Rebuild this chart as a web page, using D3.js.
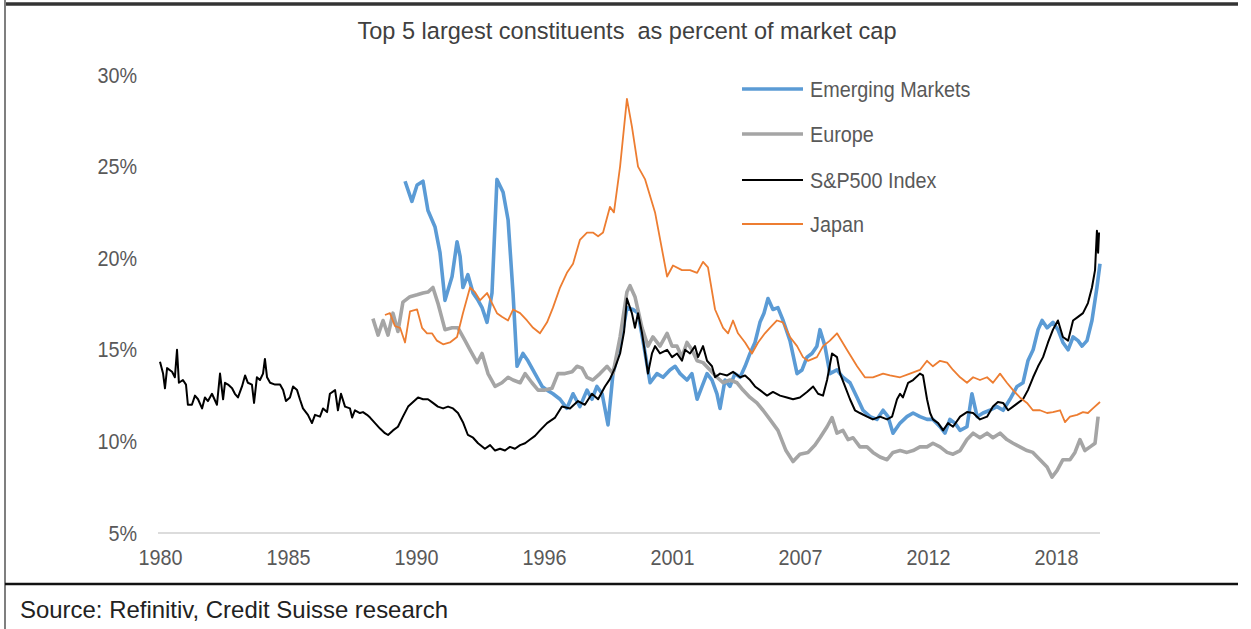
<!DOCTYPE html>
<html>
<head>
<meta charset="utf-8">
<script src="https://cdn.jsdelivr.net/npm/d3@7"></script>
<style>
  html, body { margin: 0; padding: 0; background: #fff; }
  svg { display: block; font-family: "Liberation Sans", Arial, sans-serif; }
  text { white-space: pre; }
</style>
</head>
<body>
<svg id="chart" width="1251" height="629"></svg>
<script>
// ---- text ----
const titleText = "Top 5 largest constituents  as percent of market cap";
const sourceText = "Source: Refinitiv, Credit Suisse research";
const seriesNames = ["Emerging Markets", "Europe", "S&P500 Index", "Japan"];

// ---- axes ----
const yTicks = [5, 10, 15, 20, 25, 30];
const xTickYears = [1980, 1985.42, 1990.83, 1996.25, 2001.67, 2007.08, 2012.5, 2017.92];
const xTickLabels = ["1980", "1985", "1990", "1996", "2001", "2007", "2012", "2018"];

// ---- S&P500 Index (% of market cap in top 5) ----
const spYears = [1980.00,1980.13,1980.21,1980.30,1980.51,1980.63,1980.72,1980.80,1980.97,1981.10,1981.18,1981.35,1981.48,1981.61,1981.78,1981.90,
  1982.03,1982.20,1982.41,1982.54,1982.67,1982.75,1982.88,1983.05,1983.17,1983.30,1983.47,1983.60,1983.72,1983.89,1983.98,1984.10,1984.23,1984.36,
  1984.44,1984.53,1984.66,1984.87,1985.08,1985.21,1985.33,1985.50,1985.63,1985.80,1985.92,1986.05,1986.26,1986.43,1986.56,1986.77,1986.90,1987.07,
  1987.19,1987.41,1987.53,1987.66,1987.83,1988.04,1988.13,1988.25,1988.46,1988.59,1988.76,1988.89,1989.10,1989.31,1989.52,1989.65,1989.86,1990.07,
  1990.28,1990.50,1990.71,1990.92,1991.13,1991.34,1991.55,1991.76,1991.98,1992.19,1992.40,1992.61,1992.82,1993.03,1993.25,1993.46,1993.75,1993.97,
  1994.18,1994.39,1994.60,1994.81,1995.02,1995.24,1995.45,1995.66,1995.87,1996.08,1996.38,1996.72,1997.01,1997.35,1997.69,1997.98,1998.28,1998.54,
  1998.83,1999.04,1999.25,1999.47,1999.64,1999.76,1999.97,2000.10,2000.23,2000.40,2000.53,2000.65,2000.82,2000.95,2001.16,2001.46,2001.67,2001.88,
  2002.09,2002.22,2002.43,2002.64,2002.77,2002.98,2003.15,2003.36,2003.49,2003.70,2004.00,2004.25,2004.55,2004.76,2004.97,2005.18,2005.39,2005.69,
  2005.94,2006.24,2006.53,2006.79,2007.08,2007.38,2007.64,2007.85,2008.06,2008.23,2008.44,2008.65,2008.78,2008.99,2009.20,2009.41,2009.62,2009.92,
  2010.17,2010.47,2010.77,2010.98,2011.19,2011.32,2011.44,2011.66,2011.87,2012.16,2012.29,2012.46,2012.59,2012.71,2012.93,2013.14,2013.35,2013.56,
  2013.86,2014.15,2014.41,2014.70,2015.00,2015.25,2015.46,2015.68,2015.89,2016.10,2016.31,2016.52,2016.73,2016.95,2017.16,2017.37,2017.58,2017.79,
  2018.00,2018.21,2018.43,2018.64,2018.85,2019.06,2019.27,2019.44,2019.57,2019.65,2019.70,2019.74];
const spValues = [14.35,13.7,12.9,14.0,13.8,13.5,15.0,13.2,13.35,13.1,12.0,12.0,12.5,12.3,11.8,12.4,
  12.2,12.6,12.0,13.7,12.3,13.2,13.1,12.9,12.6,12.4,13.0,13.6,13.2,13.1,12.1,13.5,13.35,13.7,
  14.5,13.5,13.2,13.1,13.1,12.8,12.2,12.4,13.0,12.8,12.3,11.8,11.45,11.0,11.45,11.35,11.8,11.6,
  12.6,12.8,11.7,12.6,11.9,11.8,11.3,11.7,11.55,11.6,11.45,11.3,11.0,10.7,10.45,10.35,10.6,10.8,
  11.35,11.9,12.15,12.4,12.3,12.3,12.1,11.9,11.8,11.9,11.8,11.55,11.05,10.35,10.2,9.9,9.6,9.8,
  9.5,9.6,9.5,9.7,9.6,9.8,9.9,10.1,10.3,10.6,11.0,11.3,11.9,11.8,12.2,12.0,12.6,12.3,
  13.0,13.4,14.0,14.8,16.0,17.8,17.0,16.2,17.0,15.9,14.8,13.7,14.8,15.2,14.8,15.0,14.6,14.8,
  14.4,15.0,14.8,15.2,14.6,15.2,14.4,14.1,13.5,13.7,13.6,13.8,13.5,13.6,13.35,13.0,12.8,12.5,
  12.7,12.5,12.4,12.3,12.4,12.7,13.0,12.6,12.5,13.35,14.8,14.6,13.7,13.0,12.3,11.7,11.55,11.35,
  11.2,11.35,11.2,11.35,12.3,12.6,12.4,13.2,13.35,13.7,13.6,12.3,11.55,11.2,11.0,10.6,11.0,10.8,
  11.35,11.6,11.55,11.2,11.35,11.9,12.15,12.1,11.7,11.9,12.1,12.3,12.8,13.5,14.1,14.6,15.4,16.1,
  16.6,15.7,15.5,16.6,16.8,17.0,17.55,18.4,19.35,21.5,20.3,21.4];

// ---- Emerging Markets ----
const emYears = [1990.37,1990.66,1990.88,1991.13,1991.34,1991.64,1991.85,1992.06,1992.36,1992.57,1992.70,1992.82,1993.03,1993.25,1993.46,1993.63,
  1993.84,1994.05,1994.26,1994.52,1994.73,1994.94,1995.11,1995.36,1995.57,1995.87,1996.17,1996.38,1996.63,1996.93,1997.22,1997.48,1997.77,1998.07,
  1998.28,1998.49,1998.71,1998.96,1999.17,1999.47,1999.76,2000.02,2000.23,2000.44,2000.74,2001.03,2001.29,2001.58,2001.80,2002.01,2002.30,2002.51,
  2002.73,2002.94,2003.15,2003.36,2003.57,2003.70,2003.91,2004.12,2004.33,2004.55,2004.76,2004.97,2005.18,2005.39,2005.56,2005.73,2005.94,2006.15,
  2006.37,2006.66,2006.96,2007.17,2007.38,2007.59,2007.80,2007.93,2008.14,2008.35,2008.65,2008.90,2009.20,2009.50,2009.75,2010.05,2010.34,2010.60,
  2010.81,2011.02,2011.32,2011.61,2011.87,2012.16,2012.46,2012.71,2013.01,2013.22,2013.43,2013.64,2013.86,2014.15,2014.36,2014.58,2014.83,2015.12,
  2015.42,2015.68,2015.97,2016.27,2016.52,2016.73,2016.95,2017.16,2017.33,2017.54,2017.79,2018.00,2018.21,2018.43,2018.64,2018.85,2019.02,2019.23,
  2019.44,2019.65,2019.78];
const emValues = [24.2,23.1,24.0,24.2,22.6,21.7,20.3,17.7,19.0,20.9,20.1,18.4,19.1,18.1,17.7,17.3,
  16.5,18.1,24.3,23.6,22.1,18.1,14.1,14.8,14.4,13.7,13.0,12.8,12.6,12.3,11.8,12.6,11.9,12.8,
  12.3,13.0,12.6,10.9,13.7,15.2,17.3,17.2,17.0,15.5,13.2,13.7,13.5,13.9,14.1,13.7,13.35,13.7,
  12.3,13.0,13.7,13.35,12.6,11.8,13.35,13.0,13.7,13.5,14.1,14.8,15.4,16.5,17.0,17.8,17.2,17.3,
  16.6,15.5,13.7,13.9,14.6,14.8,15.2,16.1,15.2,13.7,13.9,13.5,13.2,12.4,11.7,11.35,11.2,11.7,
  11.35,10.45,11.0,11.35,11.55,11.35,11.2,11.2,10.8,10.45,11.2,11.0,10.6,10.8,12.6,11.35,11.55,11.7,
  11.9,11.7,12.3,13.0,13.2,14.4,15.0,16.1,16.6,16.2,16.5,16.1,15.4,15.0,15.7,15.5,15.2,15.5,
  16.6,18.4,19.7];

// ---- Europe ----
const euYears = [1989.01,1989.23,1989.44,1989.65,1989.86,1990.07,1990.28,1990.58,1990.88,1991.13,1991.34,1991.55,1991.76,1992.06,1992.36,1992.61,
  1992.91,1993.12,1993.42,1993.63,1993.88,1994.18,1994.47,1994.73,1994.94,1995.24,1995.45,1995.74,1996.00,1996.29,1996.59,1996.84,1997.14,1997.44,
  1997.65,1997.86,1998.07,1998.32,1998.62,1998.92,1999.17,1999.47,1999.76,1999.89,2000.10,2000.40,2000.65,2000.86,2001.16,2001.46,2001.67,2001.88,
  2002.09,2002.30,2002.51,2002.73,2002.98,2003.28,2003.57,2003.83,2004.12,2004.42,2004.67,2004.97,2005.26,2005.52,2005.81,2006.15,2006.49,2006.79,
  2007.08,2007.42,2007.72,2007.93,2008.23,2008.44,2008.65,2008.90,2009.12,2009.33,2009.62,2009.92,2010.17,2010.47,2010.77,2011.02,2011.32,2011.61,
  2011.87,2012.16,2012.46,2012.71,2013.01,2013.31,2013.56,2013.86,2014.15,2014.41,2014.70,2015.00,2015.25,2015.55,2015.84,2016.10,2016.39,2016.69,
  2016.94,2017.24,2017.54,2017.75,2017.96,2018.21,2018.51,2018.72,2018.93,2019.14,2019.36,2019.57,2019.70];
const euValues = [16.7,15.8,16.6,15.8,17.0,16.0,17.6,17.9,18.0,18.1,18.15,18.4,17.55,16.1,16.2,16.2,
  15.5,15.0,14.3,14.8,13.7,13.0,13.2,13.5,13.35,13.2,13.7,13.2,12.8,12.8,12.9,13.7,13.7,13.8,
  14.1,14.0,13.5,13.35,13.7,14.1,13.7,15.7,18.15,18.5,17.9,16.2,15.2,15.7,15.2,15.9,15.2,15.2,
  14.6,15.4,15.0,14.4,14.3,13.9,13.5,13.2,13.35,13.2,12.8,12.4,12.1,11.7,11.2,10.6,9.5,8.9,
  9.3,9.4,9.8,10.2,10.8,11.3,10.45,10.6,10.1,10.2,9.7,9.7,9.4,9.15,9.0,9.4,9.5,9.4,
  9.5,9.7,9.7,9.9,9.7,9.4,9.3,9.5,10.1,10.45,10.2,10.45,10.2,10.45,10.1,9.9,9.7,9.5,
  9.4,9.0,8.6,8.05,8.4,9.0,9.0,9.4,10.1,9.5,9.7,9.9,11.35];

// ---- Japan ----
const jpYears = [1989.52,1989.73,1989.94,1990.16,1990.37,1990.58,1990.88,1991.09,1991.30,1991.51,1991.72,1991.98,1992.27,1992.57,1992.82,1993.12,
  1993.33,1993.54,1993.84,1994.05,1994.26,1994.47,1994.73,1994.94,1995.24,1995.53,1995.79,1996.08,1996.38,1996.63,1996.93,1997.22,1997.48,1997.77,
  1998.07,1998.32,1998.54,1998.75,1999.04,1999.21,1999.47,1999.76,1999.97,2000.23,2000.53,2000.95,2001.46,2001.71,2002.09,2002.43,2002.73,2002.98,
  2003.19,2003.49,2003.83,2004.04,2004.25,2004.46,2004.76,2005.05,2005.31,2005.60,2005.81,2006.11,2006.36,2006.66,2006.96,2007.21,2007.42,2007.80,
  2008.06,2008.35,2008.65,2009.07,2009.50,2009.83,2010.17,2010.60,2010.89,2011.32,2011.74,2012.16,2012.46,2012.71,2013.01,2013.31,2013.56,2013.86,
  2014.15,2014.41,2014.70,2015.00,2015.25,2015.55,2015.84,2016.10,2016.39,2016.69,2016.94,2017.24,2017.54,2017.79,2018.09,2018.30,2018.51,2018.81,
  2019.06,2019.27,2019.48,2019.78];
const jpValues = [16.9,17.0,16.3,16.2,15.4,17.1,17.2,16.2,15.9,15.9,15.5,15.3,15.4,15.7,17.0,18.4,
  18.15,17.7,18.1,17.55,17.0,16.8,16.6,17.2,17.0,16.6,16.2,15.9,16.5,17.3,18.4,19.2,19.7,21.0,
  21.4,21.4,21.2,21.4,22.8,22.5,25.0,28.7,27.2,25.0,24.3,22.5,19.0,19.6,19.35,19.35,19.2,19.8,
  19.5,17.2,16.2,15.9,16.6,15.9,15.4,14.8,15.4,15.9,16.2,16.6,16.5,15.7,15.2,14.6,14.4,14.6,
  15.2,15.5,15.9,15.0,14.1,13.5,13.5,13.7,13.6,13.5,13.7,13.9,14.4,14.1,14.4,14.3,13.9,13.5,
  13.2,13.5,13.35,13.5,13.2,13.7,13.2,12.8,12.4,12.1,11.7,11.7,11.55,11.6,11.7,11.05,11.35,11.45,
  11.6,11.55,11.8,12.15];

// ---- styles ----
const series = [
  { name: seriesNames[0], years: emYears, values: emValues, color: "#5b9bd5", width: 3.6 },
  { name: seriesNames[1], years: euYears, values: euValues, color: "#a5a5a5", width: 3.6 },
  { name: seriesNames[2], years: spYears, values: spValues, color: "#000000", width: 2 },
  { name: seriesNames[3], years: jpYears, values: jpValues, color: "#ed7d31", width: 1.8 }
];

const svg = d3.select("#chart");
const textColor = "#595959";
const squeeze = "scale(0.9,1)";   // narrow lettering used for chart labels

// frame rules
svg.append("line").attr("x1", 5).attr("x2", 5).attr("y1", 0).attr("y2", 629)
  .attr("stroke", "#7f7f7f").attr("stroke-width", 2);
svg.append("line").attr("x1", 6).attr("x2", 1238).attr("y1", 4).attr("y2", 4)
  .attr("stroke", "#333").attr("stroke-width", 3.5);
svg.append("line").attr("x1", 5).attr("x2", 1238).attr("y1", 584).attr("y2", 584)
  .attr("stroke", "#111").attr("stroke-width", 2.5);

// scales
const x = d3.scaleLinear().domain([1980, 2019.78]).range([160, 1100]);
const y = d3.scaleLinear().domain([5, 30]).range([533, 75]);

// title
svg.append("text").attr("x", 627).attr("y", 39).attr("text-anchor", "middle")
  .attr("font-size", 24.5).attr("fill", "#404040")
  .attr("textLength", 539).attr("lengthAdjust", "spacingAndGlyphs")
  .text(titleText);

// y axis (labels only)
const yAxis = svg.append("g").attr("transform", "translate(137,0)")
  .call(d3.axisLeft(y).tickValues(yTicks).tickSize(0).tickPadding(0).tickFormat(d => d + "%"));
yAxis.select(".domain").remove();
yAxis.selectAll("text").attr("font-size", 22).attr("fill", textColor)
  .attr("font-family", "Liberation Sans, Arial, sans-serif").attr("transform", squeeze);

// x axis baseline + labels
svg.append("line").attr("x1", 158).attr("x2", x(2019.78)).attr("y1", y(5)).attr("y2", y(5))
  .attr("stroke", "#d0d0d0").attr("stroke-width", 1.5);
const xAxis = svg.append("g").attr("transform", `translate(0,${y(5)})`)
  .call(d3.axisBottom(x).tickValues(xTickYears).tickSize(0).tickPadding(16)
    .tickFormat((d, i) => xTickLabels[i]));
xAxis.select(".domain").remove();
xAxis.selectAll("text").attr("font-size", 22).attr("fill", textColor)
  .attr("font-family", "Liberation Sans, Arial, sans-serif").attr("transform", squeeze);

// series lines
const line = d3.line().x(d => x(d[0])).y(d => y(d[1]));
series.forEach(s => {
  const pts = s.years.map((yr, i) => [yr, s.values[i]]);
  svg.append("path").datum(pts)
    .attr("fill", "none").attr("stroke", s.color).attr("stroke-width", s.width)
    .attr("stroke-linejoin", "round").attr("d", line);
});

// legend
const legendRows = [89, 134, 180, 224];
const legend = svg.append("g");
series.forEach((s, i) => {
  legend.append("line").attr("x1", 742).attr("x2", 803)
    .attr("y1", legendRows[i]).attr("y2", legendRows[i])
    .attr("stroke", s.color).attr("stroke-width", s.width);
  legend.append("g").attr("transform", `translate(810,${legendRows[i] + 8}) ${squeeze}`)
    .append("text").attr("font-size", 22).attr("fill", textColor).text(s.name);
});

// source note
svg.append("text").attr("x", 20).attr("y", 618).attr("font-size", 24).attr("fill", "#222")
  .attr("textLength", 428).attr("lengthAdjust", "spacingAndGlyphs")
  .text(sourceText);
</script>
</body>
</html>
